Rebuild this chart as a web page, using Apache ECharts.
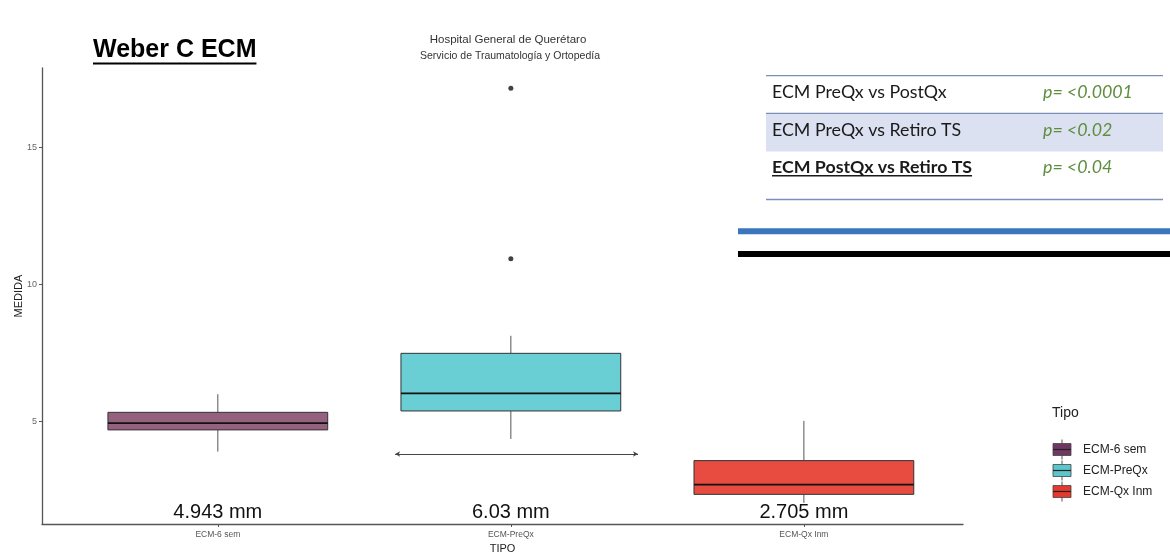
<!DOCTYPE html>
<html>
<head>
<meta charset="utf-8">
<script src="https://cdn.jsdelivr.net/npm/echarts@6/dist/echarts.min.js"></script>
<style>
  html, body { margin: 0; padding: 0; background: #ffffff; }
  #chart { width: 1170px; height: 552px; }
</style>
</head>
<body>
<div id="chart"></div>
<script>
// Categories and five-number summaries of each box
const categories = ['ECM-6 sem', 'ECM-PreQx', 'ECM-Qx Inm'];
const whiskerLow = [3.91, 4.37, 2.04];
const q1 = [4.70, 5.39, 2.35];
const medians = [4.943, 6.03, 2.705];
const q3 = [5.34, 7.49, 3.58];
const whiskerHigh = [6.00, 8.13, 5.03];
// Outlying points: [category position, value]
const outliers = [[2, 17.15], [2, 10.94]];
// Range annotation drawn under ECM-PreQx: [from, to, level]
const rangeBar = [1.605, 2.434, 3.82];
const yTicks = [5, 10, 15];
const xTicks = [1, 2, 3];

// Comparison table
const comparisons = ['ECM PreQx vs PostQx', 'ECM PreQx vs Retiro TS', 'ECM PostQx vs Retiro TS'];
const pValues = ['p= <0.0001', 'p= <0.02', 'p= <0.04'];

const boxFill = ['#94617f', '#6acfd5', '#e84c41'];
const legendFill = ['#6f3761', '#5bc6cc', '#e3392e'];

const chart = echarts.init(document.getElementById('chart'));

const measure = (() => {
  const ctx = document.createElement('canvas').getContext('2d');
  return (text, font) => { ctx.font = font; return ctx.measureText(text).width; };
})();

const boxData = categories.map((c, i) => [i + 1, whiskerLow[i], q1[i], medians[i], q3[i], whiskerHigh[i]]);

function renderBox(params, api) {
  const i = params.dataIndex;
  const x = api.value(0);
  const pLo = api.coord([x, api.value(1)]);
  const pQ1 = api.coord([x, api.value(2)]);
  const pMed = api.coord([x, api.value(3)]);
  const pQ3 = api.coord([x, api.value(4)]);
  const pHi = api.coord([x, api.value(5)]);
  const half = api.size([0.75, 0])[0] / 2;
  const labelPos = api.coord([x, 1.7]);
  const whiskerStyle = { stroke: '#555555', lineWidth: 1 };
  return {
    type: 'group',
    children: [
      { type: 'line', shape: { x1: pHi[0], y1: pHi[1], x2: pQ3[0], y2: pQ3[1] }, style: whiskerStyle },
      { type: 'line', shape: { x1: pQ1[0], y1: pQ1[1], x2: pLo[0], y2: pLo[1] }, style: whiskerStyle },
      { type: 'rect', shape: { x: pQ3[0] - half, y: pQ3[1], width: half * 2, height: pQ1[1] - pQ3[1] },
        style: { fill: boxFill[i], stroke: '#333333', lineWidth: 1 } },
      { type: 'line', shape: { x1: pMed[0] - half, y1: pMed[1], x2: pMed[0] + half, y2: pMed[1] },
        style: { stroke: '#111111', lineWidth: 1.8 } },
      { type: 'text', x: labelPos[0], y: labelPos[1], z2: 10,
        style: { text: medians[i] + ' mm', fill: '#111111', font: '20px "Liberation Sans", Arial, sans-serif',
                 align: 'center', verticalAlign: 'middle' } }
    ]
  };
}

// Static decorations: headings, comparison table, rules and legend
const graphics = [];
const titleFont = 'bold 25px "Liberation Sans", Arial, sans-serif';
const titleText = 'Weber C ECM';
graphics.push({ type: 'text', left: 93, top: 38, style: { text: titleText, font: titleFont, fill: '#000000' } });
graphics.push({ type: 'rect', shape: { x: 93, y: 62.5, width: measure(titleText, titleFont), height: 2 }, style: { fill: '#000000' } });
graphics.push({ type: 'text', x: 508, y: 40, style: { text: 'Hospital General de Querétaro', font: '11.5px "Liberation Sans", Arial, sans-serif', fill: '#333333', align: 'center', verticalAlign: 'middle' } });
graphics.push({ type: 'text', x: 510, y: 56, style: { text: 'Servicio de Traumatología y Ortopedía', font: '10.5px "Liberation Sans", Arial, sans-serif', fill: '#333333', align: 'center', verticalAlign: 'middle' } });

// table
const tX0 = 766, tX1 = 1163;
graphics.push({ type: 'rect', shape: { x: tX0, y: 113, width: tX1 - tX0, height: 38.5 }, style: { fill: '#dbe1f0' } });
[75.7, 113.3, 199.5].forEach(y => {
  graphics.push({ type: 'line', shape: { x1: tX0, y1: y, x2: tX1, y2: y }, style: { stroke: '#7c8fb8', lineWidth: 1.3 } });
});
const rowY = [92, 130, 167];
comparisons.forEach((t, i) => {
  const bold = i === 2;
  const font = (bold ? 'bold ' : '') + '17.8px Lato, "Open Sans", sans-serif';
  graphics.push({ type: 'text', x: 772, y: rowY[i], style: { text: t, font: font, fill: '#1a1a1a', verticalAlign: 'middle' } });
  if (bold) {
    graphics.push({ type: 'rect', shape: { x: 772, y: rowY[i] + 8, width: measure(t, font), height: 1.6 }, style: { fill: '#1a1a1a' } });
  }
  graphics.push({ type: 'text', x: 1043, y: rowY[i], style: { text: pValues[i], font: 'italic 17.8px Lato, "Open Sans", sans-serif', fill: '#5f8d3e', verticalAlign: 'middle' } });
});
graphics.push({ type: 'rect', shape: { x: 738, y: 228.3, width: 432, height: 6 }, style: { fill: '#3a76bd' } });
graphics.push({ type: 'rect', shape: { x: 738, y: 251, width: 432, height: 6 }, style: { fill: '#000000' } });

// legend
graphics.push({ type: 'text', x: 1052, y: 413, style: { text: 'Tipo', font: '14px "Liberation Sans", Arial, sans-serif', fill: '#222222', verticalAlign: 'middle' } });
categories.forEach((c, i) => {
  const cy = 449.5 + i * 21;
  const kx = 1053, kw = 18, kh = 12;
  graphics.push({ type: 'line', shape: { x1: kx + kw / 2, y1: cy - 10, x2: kx + kw / 2, y2: cy + 10 }, style: { stroke: '#555555', lineWidth: 1 } });
  graphics.push({ type: 'rect', shape: { x: kx, y: cy - kh / 2, width: kw, height: kh }, style: { fill: legendFill[i], stroke: '#444444', lineWidth: 0.8 } });
  graphics.push({ type: 'line', shape: { x1: kx, y1: cy, x2: kx + kw, y2: cy }, style: { stroke: '#222222', lineWidth: 1.2 } });
  graphics.push({ type: 'text', x: 1083, y: cy, style: { text: c, font: '12px "Liberation Sans", Arial, sans-serif', fill: '#222222', verticalAlign: 'middle' } });
});

const option = {
  animation: false,
  backgroundColor: '#ffffff',
  grid: { left: 42, top: 68, right: 207, bottom: 28, containLabel: false, outerBoundsMode: 'none' },
  xAxis: {
    type: 'value', min: 0.4, max: 3.543,
    name: 'TIPO', nameLocation: 'middle', nameGap: 19, nameMoveOverlap: false,
    nameTextStyle: { fontFamily: 'Liberation Sans', fontSize: 11, color: '#222222' },
    axisLine: { show: true, lineStyle: { color: '#555555', width: 1.3 } },
    axisTick: { show: true, customValues: xTicks, length: 3, lineStyle: { color: '#555555' } },
    axisLabel: { customValues: xTicks, margin: 6, fontFamily: 'Liberation Sans', fontSize: 8.5, color: '#555555',
                 formatter: v => categories[Math.round(v) - 1] || '' },
    splitLine: { show: false }
  },
  yAxis: {
    type: 'value', min: 1.27, max: 17.89,
    name: 'MEDIDA', nameLocation: 'middle', nameGap: 18, nameRotate: 90, nameMoveOverlap: false,
    nameTextStyle: { fontFamily: 'Liberation Sans', fontSize: 11, color: '#222222' },
    axisLine: { show: true, lineStyle: { color: '#555555', width: 1.3 } },
    axisTick: { show: true, customValues: yTicks, length: 3, lineStyle: { color: '#555555' } },
    axisLabel: { customValues: yTicks, margin: 5, fontFamily: 'Liberation Sans', fontSize: 9, color: '#666666' },
    splitLine: { show: false }
  },
  series: [
    {
      type: 'custom', name: 'box', data: boxData, renderItem: renderBox,
      encode: { x: 0, y: [1, 2, 3, 4, 5] }, z: 2
    },
    {
      type: 'scatter', name: 'outliers', data: outliers, symbolSize: 5,
      itemStyle: { color: '#111111' }, z: 3,
      markLine: {
        silent: true, symbol: ['arrow', 'arrow'], symbolSize: [4, 5],
        label: { show: false },
        lineStyle: { color: '#444444', width: 1, type: 'solid' },
        data: [[{ coord: [rangeBar[0], rangeBar[2]] }, { coord: [rangeBar[1], rangeBar[2]] }]]
      }
    }
  ],
  graphic: graphics
};
chart.setOption(option);
</script>
</body>
</html>
